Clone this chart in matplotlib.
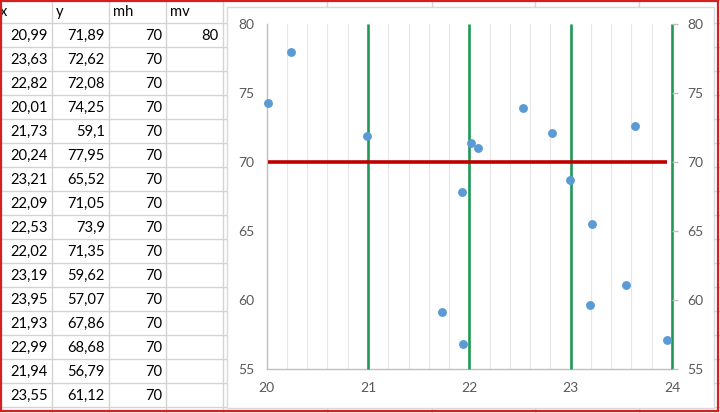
import matplotlib
matplotlib.use("Agg")
import matplotlib.pyplot as plt
from matplotlib.patches import Rectangle
from matplotlib.ticker import MultipleLocator

plt.rcParams['font.family'] = ['Lato', 'DejaVu Sans']

# ---- data ----
headers = ["x", "y", "mh", "mv"]
x_vals = [20.99, 23.63, 22.82, 20.01, 21.73, 20.24, 23.21, 22.09,
          22.53, 22.02, 23.19, 23.95, 21.93, 22.99, 21.94, 23.55]
y_vals = [71.89, 72.62, 72.08, 74.25, 59.1, 77.95, 65.52, 71.05,
          73.9, 71.35, 59.62, 57.07, 67.86, 68.68, 56.79, 61.12]
mh_vals = [70] * 16
mv_vals = [80]
vline_x = [21, 22, 23, 24]
y_ticks = [55, 60, 65, 70, 75, 80]
x_ticks = [20, 21, 22, 23, 24]

def fmt(v):
    s = ("%.2f" % v).rstrip("0").rstrip(".")
    return s.replace(".", ",")

W, H = 720, 413
fig = plt.figure(figsize=(W / 100, H / 100), dpi=100)

# ---- spreadsheet background ----
bg = fig.add_axes([0, 0, 1, 1])
bg.set_xlim(0, W)
bg.set_ylim(H, 0)
bg.axis("off")
grid_c = "#d4d4d4"
col_edges = [-4, 52, 109, 166, 223, 327, 432, 535, 639, 743]
row_h = 24
row_edges = [23 + row_h * k for k in range(-1, 18)]
for cx in col_edges:
    bg.plot([cx, cx], [0, H], color=grid_c, lw=1)
for ry in row_edges:
    bg.plot([0, W], [ry, ry], color=grid_c, lw=1)

cell_fs = 10.6
for j, h in enumerate(headers):
    bg.text(col_edges[j] + 4, 12, h, fontsize=cell_fs, va="center", ha="left", color="black")
for i in range(len(x_vals)):
    yc = 23 + row_h * i + row_h / 2 + 1
    bg.text(col_edges[1] - 4, yc, fmt(x_vals[i]), fontsize=cell_fs, va="center", ha="right")
    bg.text(col_edges[2] - 4, yc, fmt(y_vals[i]), fontsize=cell_fs, va="center", ha="right")
    bg.text(col_edges[3] - 4, yc, fmt(mh_vals[i]), fontsize=cell_fs, va="center", ha="right")
    if i < len(mv_vals):
        bg.text(col_edges[4] - 4, yc, fmt(mv_vals[i]), fontsize=cell_fs, va="center", ha="right")

# chart area
bg.add_patch(Rectangle((227, 7), 487, 401, facecolor="white", edgecolor="#d9d9d9", lw=1, zorder=5))
# red outer border
bg.add_patch(Rectangle((0.5, 0.5), W - 3, H - 3, facecolor="none", edgecolor="#d42020", lw=1.6, zorder=6))

# ---- chart ----
left, right = 266.7 / W, 672 / W
bottom, top = 1 - 369 / H, 1 - 24 / H
ax = fig.add_axes([left, bottom, right - left, top - bottom])
ax.set_facecolor("none")
ax.set_xlim(20, 24)
ax.set_ylim(55, 80)
ax.xaxis.set_minor_locator(MultipleLocator(0.2))
ax.grid(which="minor", axis="x", color="#e6e6e6", lw=0.8)
ax.grid(which="major", axis="x", color="#e6e6e6", lw=0.8)
ax.set_axisbelow(True)
ax.set_xticks(x_ticks)
ax.set_yticks(y_ticks)
txt_c = "#595959"
ax.tick_params(axis="both", which="both", length=0, labelsize=10, labelcolor=txt_c)
ax.tick_params(axis="y", pad=9)
ax.tick_params(axis="x", pad=9)
for s in ["top", "right"]:
    ax.spines[s].set_visible(False)
for s in ["left", "bottom"]:
    ax.spines[s].set_color("#bfbfbf")
    ax.spines[s].set_linewidth(1)

ax.vlines(vline_x, 55, 80, color="#1f9a56", lw=1.9, zorder=3, clip_on=False)
pairs = sorted(zip(x_vals, mh_vals))
ax.plot([p[0] for p in pairs], [p[1] for p in pairs], color="#c00000", lw=2.6, zorder=4,
        solid_capstyle="butt")
ax.plot(x_vals, y_vals, "o", color="#5b9bd5", markersize=6.4, markeredgewidth=0, zorder=5,
        clip_on=False)

ax2 = ax.twinx()
ax2.set_ylim(55, 80)
ax2.set_yticks(y_ticks)
ax2.tick_params(axis="y", length=4, width=1, color="#bfbfbf", labelsize=10, labelcolor=txt_c, pad=7)
for s in ["top", "left", "bottom", "right"]:
    ax2.spines[s].set_visible(False)

fig.savefig("out.png", dpi=100)
